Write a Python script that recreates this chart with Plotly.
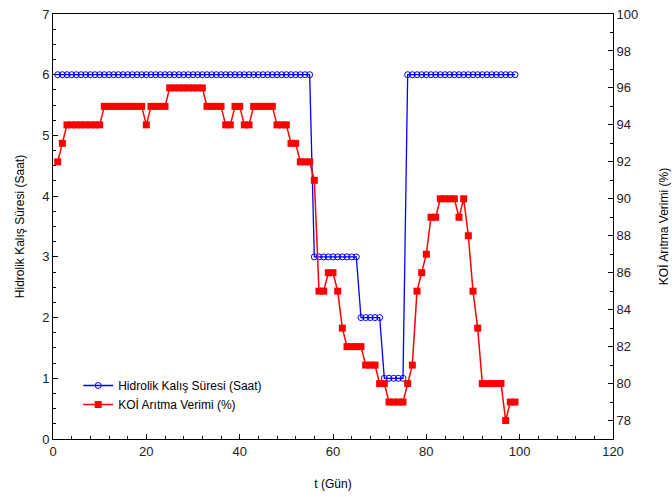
import plotly.graph_objects as go

days = [1, 2, 3, 4, 5, 6, 7, 8, 9, 10, 11, 12, 13, 14, 15, 16, 17, 18, 19, 20,
        21, 22, 23, 24, 25, 26, 27, 28, 29, 30, 31, 32, 33, 34, 35, 36, 37, 38, 39, 40,
        41, 42, 43, 44, 45, 46, 47, 48, 49, 50, 51, 52, 53, 54, 55, 56, 57, 58, 59, 60,
        61, 62, 63, 64, 65, 66, 67, 68, 69, 70, 71, 72, 73, 74, 75, 76, 77, 78, 79, 80,
        81, 82, 83, 84, 85, 86, 87, 88, 89, 90, 91, 92, 93, 94, 95, 96, 97, 98, 99]

hrt = [6, 6, 6, 6, 6, 6, 6, 6, 6, 6, 6, 6, 6, 6, 6, 6, 6, 6, 6, 6,
       6, 6, 6, 6, 6, 6, 6, 6, 6, 6, 6, 6, 6, 6, 6, 6, 6, 6, 6, 6,
       6, 6, 6, 6, 6, 6, 6, 6, 6, 6, 6, 6, 6, 6, 6, 3, 3, 3, 3, 3,
       3, 3, 3, 3, 3, 2, 2, 2, 2, 2, 1, 1, 1, 1, 1, 6, 6, 6, 6, 6,
       6, 6, 6, 6, 6, 6, 6, 6, 6, 6, 6, 6, 6, 6, 6, 6, 6, 6, 6]

koi = [92, 93, 94, 94, 94, 94, 94, 94, 94, 94, 95, 95, 95, 95, 95, 95, 95, 95, 95, 94,
       95, 95, 95, 95, 96, 96, 96, 96, 96, 96, 96, 96, 95, 95, 95, 95, 94, 94, 95, 95,
       94, 94, 95, 95, 95, 95, 95, 94, 94, 94, 93, 93, 92, 92, 92, 91, 85, 85, 86, 86,
       85, 83, 82, 82, 82, 82, 81, 81, 81, 80, 80, 79, 79, 79, 79, 80, 81, 85, 86, 87,
       89, 89, 90, 90, 90, 90, 89, 90, 88, 85, 83, 80, 80, 80, 80, 80, 78, 79, 79]

font = "Liberation Sans, Arial, sans-serif"

fig = go.Figure()
fig.add_trace(go.Scatter(
    x=days, y=hrt, mode="lines+markers", name="Hidrolik Kalış Süresi (Saat)",
    line=dict(color="#0000ff", width=1.3),
    marker=dict(symbol="circle-open", size=6, color="#0000ff", line=dict(width=1)),
    yaxis="y"))
fig.add_trace(go.Scatter(
    x=days, y=koi, mode="lines+markers", name="KOİ Arıtma Verimi (%)",
    line=dict(color="#ff0000", width=1.5),
    marker=dict(symbol="square", size=7, color="#ff0000"),
    yaxis="y2"))

axis_common = dict(showline=True, linecolor="black", linewidth=1, ticks="inside",
                   ticklen=5, tickcolor="black", showgrid=False, zeroline=False,
                   automargin=False,
                   tickfont=dict(family=font, size=13, color="#222"))

fig.update_layout(
    width=672, height=497,
    margin=dict(l=53, r=59, t=14, b=58, autoexpand=False),
    paper_bgcolor="white", plot_bgcolor="white",
    font=dict(family=font, size=12, color="black"),
    xaxis=dict(range=[0, 120], tickvals=[0, 20, 40, 60, 80, 100, 120], mirror=True,
               minor=dict(dtick=4, ticks="inside", ticklen=3, tickcolor="black"),
               title=dict(text="t (Gün)", font=dict(family=font, size=12), standoff=22),
               **axis_common),
    yaxis=dict(range=[0, 7], dtick=1,
               minor=dict(dtick=0.25, ticks="inside", ticklen=3, tickcolor="black"),
               title=dict(text="Hidrolik Kalış Süresi (Saat)", font=dict(family=font, size=12), standoff=14),
               **axis_common),
    yaxis2=dict(range=[77, 100], tickvals=[78, 80, 82, 84, 86, 88, 90, 92, 94, 96, 98, 100],
                overlaying="y", side="right",
                minor=dict(dtick=1, ticks="inside", ticklen=3, tickcolor="black"),
                title=dict(text="KOİ Arıtma Verimi (%)", font=dict(family=font, size=12), standoff=22),
                **axis_common),
    legend=dict(x=0.045, y=0.16, xanchor="left", yanchor="top",
                bgcolor="rgba(0,0,0,0)", font=dict(family=font, size=12),
                tracegroupgap=2, itemwidth=30),
    showlegend=True,
)

fig.write_html("out.html", config={"displayModeBar": False},
               post_script="document.body.style.margin='0';")
